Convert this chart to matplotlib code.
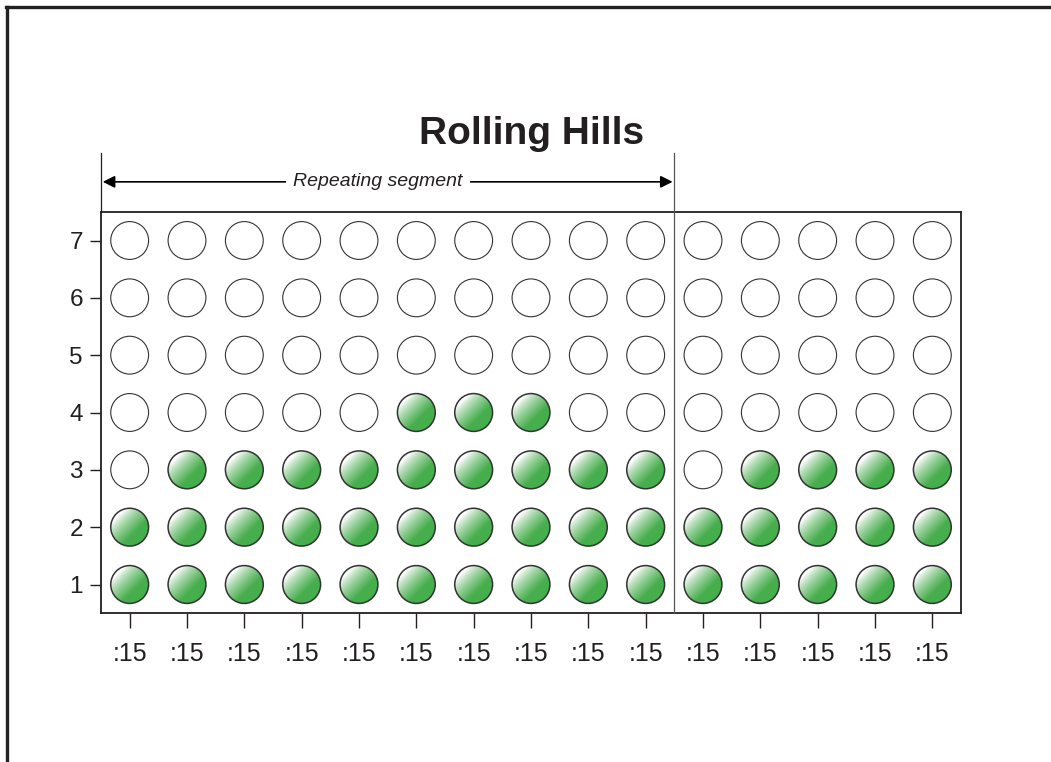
import matplotlib
matplotlib.use("Agg")
import matplotlib.pyplot as plt
from matplotlib.patches import Circle
from matplotlib.lines import Line2D
import numpy as np

plt.rcParams['font.family'] = ['Liberation Sans', 'DejaVu Sans']

# data
columns = list(range(1, 16))
filled = [2, 3, 3, 3, 3, 4, 4, 4, 3, 3, 2, 3, 3, 3, 3]
levels = [1, 2, 3, 4, 5, 6, 7]
xlabels = [':15'] * 15
segment_end = 10  # repeating segment covers the first 10 columns

ink = '#231f20'
green = np.array([70, 174, 76]) / 255.0
r = 0.33

fig = plt.figure(figsize=(10.51, 7.62), dpi=100)
ax = fig.add_axes([101 / 1051, 1 - 614 / 762, 860 / 1051, 403 / 762])
ax.set_xlim(0.5, 15.5)
ax.set_ylim(0.5, 7.5)
ax.set_aspect('equal')

# gradient image for filled dots: white upper-left -> green lower-right
n = 64
gx, gy = np.meshgrid(np.linspace(-1, 1, n), np.linspace(1, -1, n))
t = (gx - gy) / np.sqrt(2)
frac = np.clip((t + 0.85) / 1.25, 0, 1) ** 0.75
grad = np.ones((n, n, 3)) * (1 - frac[..., None]) + green * frac[..., None]

for c, k in zip(columns, filled):
    for lv in levels:
        if lv <= k:
            clip = Circle((c, lv), r, transform=ax.transData, facecolor='none', edgecolor='none')
            ax.add_patch(clip)
            im = ax.imshow(grad, extent=[c - r, c + r, lv - r, lv + r], origin='upper',
                           interpolation='bilinear', zorder=2)
            im.set_clip_path(clip)
            ax.add_patch(Circle((c, lv), r, facecolor='none', edgecolor='#333333', lw=1.1, zorder=3))
        else:
            ax.add_patch(Circle((c, lv), r, facecolor='white', edgecolor='#333333', lw=0.8, zorder=3))

ax.set_xlim(0.5, 15.5)
ax.set_ylim(0.5, 7.5)

ax.set_xticks(columns)
ax.set_xticklabels(xlabels, fontsize=18, color=ink)
ax.set_yticks(levels)
ax.set_yticklabels([str(v) for v in levels], fontsize=17.5, color=ink)
ax.tick_params(axis='y', direction='out', length=8, width=1, pad=5, colors=ink)
ax.tick_params(axis='x', direction='out', length=11, width=1, pad=10, colors=ink)
for s in ax.spines.values():
    s.set_color(ink)
    s.set_linewidth(1.3)

# separator and segment marker
top = 7.5 + 59 / 57.33
sep = segment_end + 0.5
ax.plot([sep, sep], [0.5, top], color='#555555', lw=0.9, clip_on=False, zorder=4)
ax.plot([0.5, 0.5], [7.5, top], color=ink, lw=0.9, clip_on=False, zorder=4)
ay = 7.5 + 30 / 57.33
ax.annotate('', xy=(0.53, ay), xytext=(sep - 0.03, ay), annotation_clip=False,
            arrowprops=dict(arrowstyle='<|-|>', color='black', lw=1.2, mutation_scale=18,
                            shrinkA=0, shrinkB=0))
ax.text(5.33, ay, 'Repeating segment', fontsize=14, style='italic', ha='center', va='center',
        color=ink, zorder=5, bbox=dict(facecolor='white', edgecolor='none', pad=5), clip_on=False)

fig.text(0.506, 1 - 144 / 762, 'Rolling Hills', fontsize=28, fontweight='bold', ha='center',
         va='baseline', color=ink)

# outer frame (left and top)
fig.add_artist(Line2D([6.5 / 1051, 6.5 / 1051], [0, 1 - 7 / 762], color='#222222', lw=2.4))
fig.add_artist(Line2D([5.5 / 1051, 1], [1 - 7 / 762, 1 - 7 / 762], color='#222222', lw=2.4))

fig.savefig('out.png', dpi=100)
